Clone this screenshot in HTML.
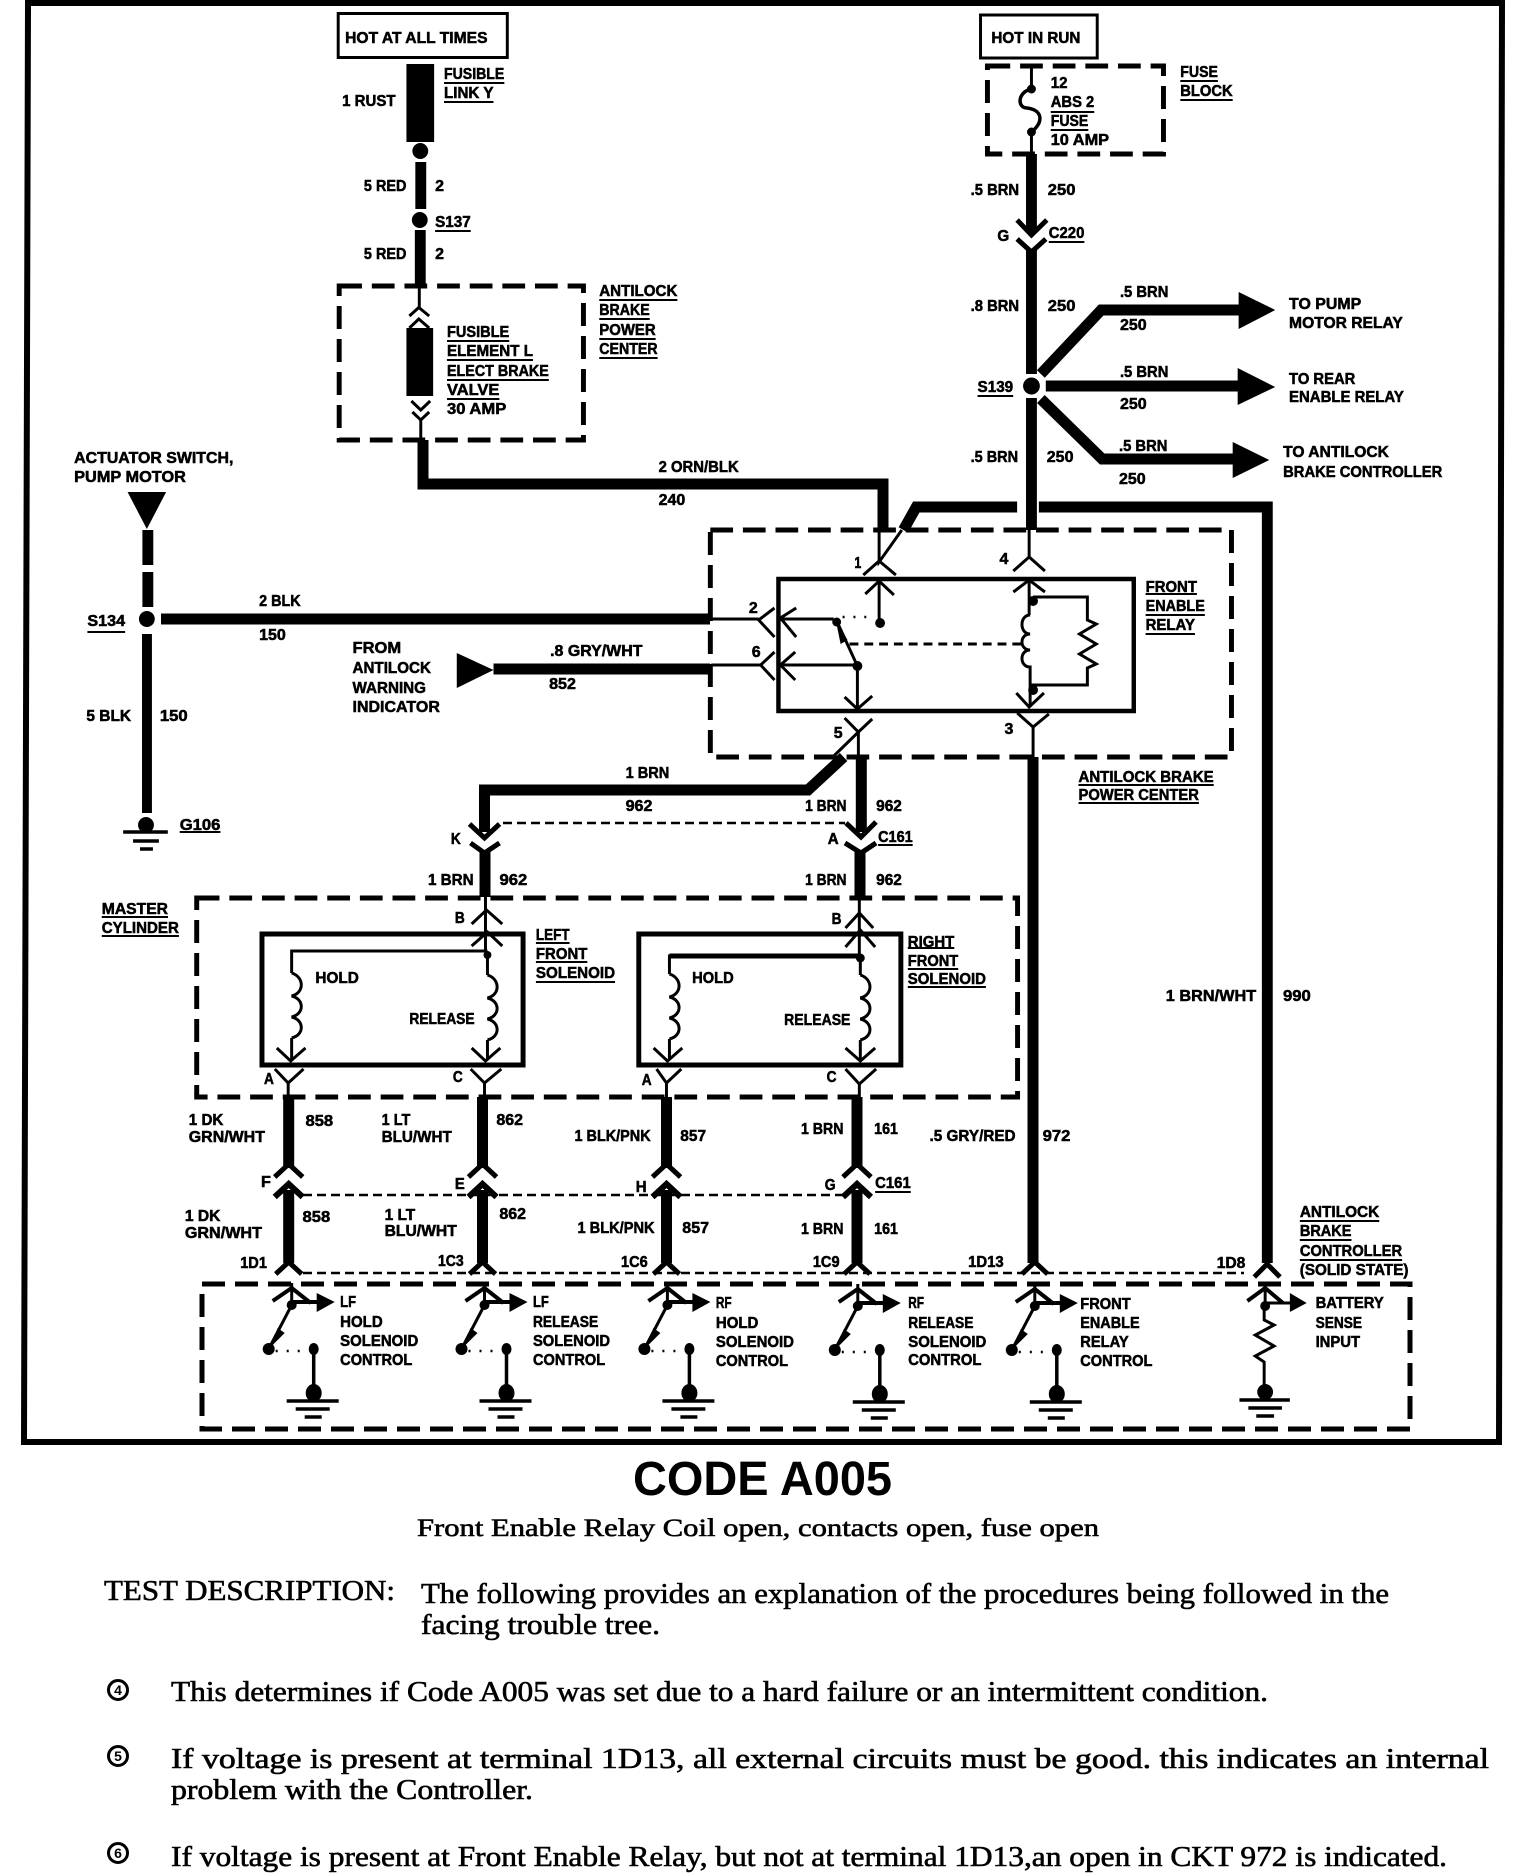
<!DOCTYPE html>
<html><head><meta charset="utf-8"><title>Code A005</title>
<style>
html,body{margin:0;padding:0;background:#fff}
svg{display:block;position:absolute;left:0;top:0}
.l text{font:bold 16px "Liberation Sans",sans-serif;fill:#000;stroke:#000;stroke-width:.55}
.s text{font:28px "Liberation Serif",serif;fill:#000;stroke:#000;stroke-width:.6}
.n{fill:none;stroke:#000;stroke-linejoin:miter;stroke-linecap:butt}
</style></head><body>
<svg width="1520" height="1874" viewBox="0 0 1520 1874" xmlns="http://www.w3.org/2000/svg">
<defs>
<g id="ctl">
<polyline class="n" stroke-width="4" points="-19,-4 0,-17 19,-2"/>
<path class="n" stroke-width="3" d="M0,-22V0"/>
<path class="n" stroke-width="4" d="M0,-3H26"/>
<polygon points="25,-12 25,7 43,-3"/>
<circle cx="0" cy="0" r="5"/>
<path class="n" stroke-width="3" d="M0,0L-23,44"/>
<polygon points="-14,23 -7,28 -21,42"/>
<circle cx="-23" cy="44" r="6"/>
<path class="n" stroke-width="2.5" stroke-dasharray="2 9" d="M-16,46H17"/>
<ellipse cx="22" cy="44" rx="5" ry="6"/>
<path class="n" stroke-width="3.5" d="M22,44V88"/>
<ellipse cx="22" cy="88" rx="8" ry="9"/>
<path class="n" stroke-width="3.5" d="M-5,96H47M4,104H38M13,112H30"/>
</g>
<g id="col">
<path class="n" stroke-width="11" d="M0,1097V1168M0,1190V1263"/>
<polyline class="n" stroke-width="5" points="-14,1177 0,1164 14,1177"/>
<polyline class="n" stroke-width="6" points="-14,1197 0,1184 14,1197"/>
<polyline class="n" stroke-width="5" points="-13,1274 0,1262 13,1274"/>
</g>
<g id="coil">
<path class="n" stroke-width="3" d="M0,0C13,4 13,20 0,23C13,26 13,41 0,44C13,47 13,62 0,65"/>
</g>
</defs>

<!-- frame -->
<path class="n" stroke-width="6" d="M24,1442L28,3H1502L1499,1442Z"/>

<!-- absolute wires -->
<path class="n" stroke-width="11" d="M423,440V484H883V530"/>
<path class="n" stroke-width="11" d="M161,619H710"/>
<path class="n" stroke-width="11" d="M843.600,757L808,790H484.500V832M861.300,757V832"/>
<path class="n" stroke-width="11" d="M860,852V897M485,852V897"/>
<path class="n" stroke-width="11" d="M1033,757V1263"/>
<polyline class="n" stroke-width="5" points="846,823 861,837 876,822"/>
<polyline class="n" stroke-width="5" points="845,843 861,853 876,843"/>
<polyline class="n" stroke-width="5" points="469.500,824 484.500,838 499.500,824"/>
<polyline class="n" stroke-width="5" points="470.500,843 484.500,853 499.500,843"/>
<g class="n" stroke-width="2.500" stroke-dasharray="9 5">
<path d="M503,823H845"/>
<path d="M303,1195H845"/>
<path d="M303,1273H1244"/>
</g>
<rect class="n" stroke-width="5" stroke-dasharray="23 10" x="202" y="1284" width="1208" height="145"/>
<use href="#col" x="288.700"/><use href="#col" x="482.500"/><use href="#col" x="666.500"/><use href="#col" x="857"/>
<use href="#ctl" x="291.700" y="1305"/><use href="#ctl" x="484.500" y="1305"/><use href="#ctl" x="667.400" y="1305"/><use href="#ctl" x="857.800" y="1306"/><use href="#ctl" x="1034.800" y="1306"/>

<!-- group A: left feed -->
<g transform="matrix(.9889 0 0 1 0 0)">
<rect class="n" stroke-width="3" x="342" y="13.500" width="171" height="44"/>
<rect class="n" stroke-width="5" stroke-dasharray="23 10" x="343" y="286" width="247" height="154"/>
<rect x="411" y="64" width="28" height="78"/>
<circle cx="425" cy="151" r="8"/>
<path class="n" stroke-width="11" d="M425.500,162V209M425,230V287"/>
<circle cx="424.500" cy="220" r="8"/>
<path class="n" stroke-width="3" d="M424,287V307M425.500,420V440"/>
<polyline class="n" stroke-width="3" points="414,316 423.500,307.500 434,316"/>
<polyline class="n" stroke-width="3" points="414,328 423.500,319 434,328"/>
<rect x="411" y="328" width="27" height="68"/>
<polyline class="n" stroke-width="3" points="416,401 425.500,410 435,401"/>
<polyline class="n" stroke-width="3" points="417,412 425.500,420 434,412"/>
<polygon points="129,492 168,492 148.500,529"/>
<path class="n" stroke-width="11" d="M149.500,530V565M149.500,572V607"/>
<circle cx="148.500" cy="619" r="8"/>
<path class="n" stroke-width="2" d="M449,83H510M449,102H499M440,231H476M452,341H515M452,360H539M452,380H555M452,399H505M606,300H685M606,319H657M606,339H663M606,358H665"/>
</g>
<g class="l" transform="matrix(.9889 0 0 1 0 -1)">
<text x="349" y="44" textLength="144" lengthAdjust="spacingAndGlyphs">HOT AT ALL TIMES</text>
<text x="346" y="107" textLength="54" lengthAdjust="spacingAndGlyphs">1 RUST</text>
<text x="449" y="80" textLength="61" lengthAdjust="spacingAndGlyphs">FUSIBLE</text>
<text x="449" y="99" textLength="50" lengthAdjust="spacingAndGlyphs">LINK Y</text>
<text x="368" y="192" textLength="43" lengthAdjust="spacingAndGlyphs">5 RED</text>
<text x="440" y="192" textLength="9" lengthAdjust="spacingAndGlyphs">2</text>
<text x="440" y="228" textLength="36" lengthAdjust="spacingAndGlyphs">S137</text>
<text x="368" y="260" textLength="43" lengthAdjust="spacingAndGlyphs">5 RED</text>
<text x="440" y="260" textLength="9" lengthAdjust="spacingAndGlyphs">2</text>
<text x="452" y="338" textLength="63" lengthAdjust="spacingAndGlyphs">FUSIBLE</text>
<text x="452" y="357" textLength="87" lengthAdjust="spacingAndGlyphs">ELEMENT L</text>
<text x="452" y="377" textLength="103" lengthAdjust="spacingAndGlyphs">ELECT BRAKE</text>
<text x="452" y="396" textLength="53" lengthAdjust="spacingAndGlyphs">VALVE</text>
<text x="452" y="415" textLength="60" lengthAdjust="spacingAndGlyphs">30 AMP</text>
<text x="606" y="297" textLength="79" lengthAdjust="spacingAndGlyphs">ANTILOCK</text>
<text x="606" y="316" textLength="51" lengthAdjust="spacingAndGlyphs">BRAKE</text>
<text x="606" y="336" textLength="57" lengthAdjust="spacingAndGlyphs">POWER</text>
<text x="606" y="355" textLength="59" lengthAdjust="spacingAndGlyphs">CENTER</text>
<text x="666" y="473" textLength="81" lengthAdjust="spacingAndGlyphs">2 ORN/BLK</text>
<text x="666" y="506" textLength="27" lengthAdjust="spacingAndGlyphs">240</text>
<text x="75" y="464" textLength="161" lengthAdjust="spacingAndGlyphs">ACTUATOR SWITCH,</text>
<text x="75" y="483" textLength="113" lengthAdjust="spacingAndGlyphs">PUMP MOTOR</text>
<text x="262" y="607" textLength="42" lengthAdjust="spacingAndGlyphs">2 BLK</text>
<text x="262" y="641" textLength="27" lengthAdjust="spacingAndGlyphs">150</text>
</g>

<!-- group G: display-derived -->
<g transform="matrix(.993 0 0 1 0 0)">
<path class="n" stroke-width="10" d="M148,634V813"/>
<circle cx="147" cy="825" r="8"/>
<path class="n" stroke-width="3.500" d="M124,832H169M134,841H160M141,849H154"/>
<polygon points="460,653 460,688 497,670"/>
<path class="n" stroke-width="11" d="M497,669H715"/>
<path class="n" stroke-width="2" d="M88,632H126M181,832H222M1309,1221H1389M1309,1240H1361M1309,1260H1412"/>
</g>
<g class="l" transform="matrix(.993 0 0 1 0 -1)">
<text x="88" y="627" textLength="38" lengthAdjust="spacingAndGlyphs">S134</text>
<text x="87" y="722" textLength="45" lengthAdjust="spacingAndGlyphs">5 BLK</text>
<text x="161" y="722" textLength="28" lengthAdjust="spacingAndGlyphs">150</text>
<text x="181" y="831" textLength="41" lengthAdjust="spacingAndGlyphs">G106</text>
<text x="355" y="654" textLength="49" lengthAdjust="spacingAndGlyphs">FROM</text>
<text x="355" y="674" textLength="79" lengthAdjust="spacingAndGlyphs">ANTILOCK</text>
<text x="355" y="694" textLength="74" lengthAdjust="spacingAndGlyphs">WARNING</text>
<text x="355" y="713" textLength="88" lengthAdjust="spacingAndGlyphs">INDICATOR</text>
<text x="554" y="657" textLength="93" lengthAdjust="spacingAndGlyphs">.8 GRY/WHT</text>
<text x="553" y="690" textLength="27" lengthAdjust="spacingAndGlyphs">852</text>
<text x="630" y="779" textLength="44" lengthAdjust="spacingAndGlyphs">1 BRN</text>
<text x="630" y="812" textLength="27" lengthAdjust="spacingAndGlyphs">962</text>
<text x="454" y="845" textLength="10" lengthAdjust="spacingAndGlyphs">K</text>
<text x="431" y="886" textLength="46" lengthAdjust="spacingAndGlyphs">1 BRN</text>
<text x="503" y="886" textLength="28" lengthAdjust="spacingAndGlyphs">962</text>
<text x="1050" y="1142" textLength="28" lengthAdjust="spacingAndGlyphs">972</text>
<text x="1174" y="1002" textLength="91" lengthAdjust="spacingAndGlyphs">1 BRN/WHT</text>
<text x="1292" y="1002" textLength="28" lengthAdjust="spacingAndGlyphs">990</text>
<text x="1309" y="1218" textLength="80" lengthAdjust="spacingAndGlyphs">ANTILOCK</text>
<text x="1309" y="1237" textLength="52" lengthAdjust="spacingAndGlyphs">BRAKE</text>
<text x="1309" y="1257" textLength="103" lengthAdjust="spacingAndGlyphs">CONTROLLER</text>
</g>

<!-- group B: right feed -->
<g transform="matrix(.9889 0 0 1 8.440 0)">
<rect class="n" stroke-width="3" x="983" y="15" width="118" height="43"/>
<rect class="n" stroke-width="5" stroke-dasharray="23 10" x="990" y="66" width="178" height="88"/>
<path class="n" stroke-width="3" d="M1034.500,66V89"/>
<path class="n" stroke-width="3.500" d="M1034.500,89C1020,92 1020,108 1030,108C1046,110 1047,122 1034.500,132"/>
<circle cx="1034.500" cy="89" r="4.500"/><circle cx="1034.500" cy="132" r="4.500"/>
<path class="n" stroke-width="3" d="M1034.500,132V154"/>
<path class="n" stroke-width="11" d="M1034.500,154V232"/>
<polyline class="n" stroke-width="5" points="1020,220 1034.500,235 1050,220"/>
<polyline class="n" stroke-width="5" points="1020,239 1034.500,252 1049,239"/>
<path class="n" stroke-width="11" d="M1034.500,250V374M1034.500,398V530"/>
<circle cx="1034.500" cy="386" r="8.500"/>
<path class="n" stroke-width="11" d="M1044,374L1105,310H1246M1049,386H1245M1044,399L1106,459H1240"/>
<polygon points="1244,292 1244,329 1281,310"/>
<polygon points="1243,368 1243,405 1281,387"/>
<polygon points="1238,442 1238,478 1275,460"/>
<path class="n" stroke-width="11" d="M1020,507H918L905,530M1042,507H1273V1263"/>
<path class="n" stroke-width="2" d="M1054,112H1098M1054,130H1092M1185,81H1223M1185,100H1238M1052,242H1088M980,396H1016"/>
</g>
<g class="l" transform="matrix(.9889 0 0 1 8.440 -1)">
<text x="994" y="44" textLength="90" lengthAdjust="spacingAndGlyphs">HOT IN RUN</text>
<text x="1054" y="89" textLength="17" lengthAdjust="spacingAndGlyphs">12</text>
<text x="1054" y="108" textLength="44" lengthAdjust="spacingAndGlyphs">ABS 2</text>
<text x="1054" y="127" textLength="38" lengthAdjust="spacingAndGlyphs">FUSE</text>
<text x="1054" y="146" textLength="59" lengthAdjust="spacingAndGlyphs">10 AMP</text>
<text x="1185" y="78" textLength="38" lengthAdjust="spacingAndGlyphs">FUSE</text>
<text x="1185" y="97" textLength="53" lengthAdjust="spacingAndGlyphs">BLOCK</text>
<text x="973" y="196" textLength="49" lengthAdjust="spacingAndGlyphs">.5 BRN</text>
<text x="1051" y="196" textLength="28" lengthAdjust="spacingAndGlyphs">250</text>
<text x="1000" y="242" textLength="12" lengthAdjust="spacingAndGlyphs">G</text>
<text x="1052" y="239" textLength="36" lengthAdjust="spacingAndGlyphs">C220</text>
<text x="973" y="312" textLength="49" lengthAdjust="spacingAndGlyphs">.8 BRN</text>
<text x="1051" y="312" textLength="28" lengthAdjust="spacingAndGlyphs">250</text>
<text x="1124" y="298" textLength="49" lengthAdjust="spacingAndGlyphs">.5 BRN</text>
<text x="1124" y="331" textLength="27" lengthAdjust="spacingAndGlyphs">250</text>
<text x="1295" y="310" textLength="73" lengthAdjust="spacingAndGlyphs">TO PUMP</text>
<text x="1295" y="329" textLength="115" lengthAdjust="spacingAndGlyphs">MOTOR RELAY</text>
<text x="980" y="393" textLength="36" lengthAdjust="spacingAndGlyphs">S139</text>
<text x="1124" y="378" textLength="49" lengthAdjust="spacingAndGlyphs">.5 BRN</text>
<text x="1124" y="410" textLength="27" lengthAdjust="spacingAndGlyphs">250</text>
<text x="1295" y="385" textLength="67" lengthAdjust="spacingAndGlyphs">TO REAR</text>
<text x="1295" y="403" textLength="116" lengthAdjust="spacingAndGlyphs">ENABLE RELAY</text>
<text x="973" y="463" textLength="48" lengthAdjust="spacingAndGlyphs">.5 BRN</text>
<text x="1050" y="463" textLength="27" lengthAdjust="spacingAndGlyphs">250</text>
<text x="1123" y="452" textLength="49" lengthAdjust="spacingAndGlyphs">.5 BRN</text>
<text x="1123" y="485" textLength="27" lengthAdjust="spacingAndGlyphs">250</text>
<text x="1289" y="458" textLength="107" lengthAdjust="spacingAndGlyphs">TO ANTILOCK</text>
<text x="1289" y="478" textLength="161" lengthAdjust="spacingAndGlyphs">BRAKE CONTROLLER</text>
</g>

<!-- group C: relay -->
<g transform="matrix(.987 0 0 1 8.580 0)">
<rect class="n" stroke-width="5" stroke-dasharray="23 10" x="711" y="530" width="528" height="227"/>
<rect class="n" stroke-width="4.500" x="780" y="579" width="360" height="132"/>
<g class="n" stroke-width="3">
<path d="M882,530V562L905,530M882,581V623"/>
<polyline points="866,575 882,561 899,575"/>
<polyline points="868,594 882,581 897,595"/>
<path d="M1034,530V557"/>
<polyline points="1018,571 1034,557 1050,571"/>
<polyline points="1018,592 1034,580 1050,592"/>
<path d="M1034,580V615"/>
<path d="M712,619H760"/>
<polyline points="776,608 760,620 776,637"/>
<polyline points="798,608 782,618 798,637"/>
<path d="M782,619H836"/>
<path d="M712,665H762"/>
<polyline points="776,652 762,665 776,680"/>
<polyline points="797,652 782,665 797,680"/>
<path d="M782,665H860V708"/>
<polyline points="847,697 860,709 875,696"/>
<path d="M860,666L840,623"/>
<path d="M1038,597H1093V620L1102,624L1085,634L1102,644L1085,654L1102,664L1093,668V685H1036"/>
<path d="M1035,615C1024,615 1024,634 1035,634C1024,634 1024,650 1035,650C1024,650 1024,667 1035,667V707"/>
<polyline points="1021,693 1034,707 1049,693"/>
<polyline points="1022,713 1038,727 1054,714"/>
<path d="M1038,727V757"/>
<polyline points="847,718 861,732 875,719"/>
<path d="M861,732V757M861,732L835,757"/>
</g>
<path class="n" stroke-width="3" stroke-dasharray="9 6" d="M852,644H1026"/>
<path class="n" stroke-width="2.500" stroke-dasharray="2 9" d="M845,617H876"/>
<polygon points="838,620 850,640 843,644"/>
<circle cx="883" cy="623" r="5"/><circle cx="839" cy="622" r="4.500"/>
<circle cx="860" cy="666" r="5"/><circle cx="1038" cy="601" r="5"/><circle cx="1038" cy="690" r="5"/>
<path class="n" stroke-width="2" d="M1152,594H1204M1152,615H1212M1152,634H1202M1084,785H1221M1084,803H1206M881,845H916"/>
</g>
<g class="l" transform="matrix(.987 0 0 1 8.580 -1)">
<text x="857" y="569" textLength="7" lengthAdjust="spacingAndGlyphs">1</text>
<text x="1004" y="565" textLength="9" lengthAdjust="spacingAndGlyphs">4</text>
<text x="750" y="614" textLength="9" lengthAdjust="spacingAndGlyphs">2</text>
<text x="753" y="658" textLength="9" lengthAdjust="spacingAndGlyphs">6</text>
<text x="836" y="739" textLength="9" lengthAdjust="spacingAndGlyphs">5</text>
<text x="1009" y="735" textLength="9" lengthAdjust="spacingAndGlyphs">3</text>
<text x="1152" y="593" textLength="52" lengthAdjust="spacingAndGlyphs">FRONT</text>
<text x="1152" y="612" textLength="60" lengthAdjust="spacingAndGlyphs">ENABLE</text>
<text x="1152" y="631" textLength="50" lengthAdjust="spacingAndGlyphs">RELAY</text>
<text x="1084" y="783" textLength="137" lengthAdjust="spacingAndGlyphs">ANTILOCK BRAKE</text>
<text x="1084" y="801" textLength="122" lengthAdjust="spacingAndGlyphs">POWER CENTER</text>
<text x="807" y="812" textLength="42" lengthAdjust="spacingAndGlyphs">1 BRN</text>
<text x="879" y="812" textLength="26" lengthAdjust="spacingAndGlyphs">962</text>
<text x="830" y="845" textLength="11" lengthAdjust="spacingAndGlyphs">A</text>
<text x="881" y="843" textLength="35" lengthAdjust="spacingAndGlyphs">C161</text>
<text x="807" y="886" textLength="42" lengthAdjust="spacingAndGlyphs">1 BRN</text>
<text x="879" y="886" textLength="26" lengthAdjust="spacingAndGlyphs">962</text>
</g>

<!-- group D: master cylinder -->
<g transform="matrix(.989 0 0 1 .880 0)">
<rect class="n" stroke-width="5" stroke-dasharray="23 10" x="198" y="898" width="830" height="199"/>
<rect class="n" stroke-width="5" x="264" y="934" width="264" height="131"/>
<rect class="n" stroke-width="5" x="645" y="934" width="265" height="131"/>
<g class="n" stroke-width="3">
<path d="M490,897V950"/>
<polyline points="476,924 491,910 507,924"/>
<polyline points="476,946 492,932 507,946"/>
<path d="M492,951H294V973M492,955V975M294,1038V1060M492,1040V1060"/>
<polyline points="279,1048 293,1061 308,1048"/>
<polyline points="476,1048 490,1061 505,1048"/>
<path d="M868,897V956"/>
<polyline points="854,928 868,913 882,928"/>
<polyline points="854,947 869,930 884,947"/>
<path d="M869,956H676V974M869,958V975M676,1039V1060M869,1040V1060"/>
<polyline points="660,1048 674,1061 689,1048"/>
<polyline points="854,1048 869,1061 884,1048"/>
<polyline points="277,1069 290.500,1083 306,1069"/>
<polyline points="475,1069 489,1083 506,1069"/>
<polyline points="663,1069 673,1083 688,1069"/>
<polyline points="854,1069 868,1084 885,1069"/>
<path d="M290.500,1083V1097M489,1083V1097M673,1083V1097M868,1084V1097"/>
</g>
<use href="#coil" x="294" y="973"/><use href="#coil" x="492" y="975"/>
<use href="#coil" x="676" y="974"/><use href="#coil" x="869" y="975"/>
<circle cx="492" cy="955" r="4"/><circle cx="869" cy="958" r="4.500"/>
<path class="n" stroke-width="5" d="M676,956H869"/>
<path class="n" stroke-width="2" d="M102,917H169M102,936H180M541,943H575M541,962H593M541,982H621M917,948H964M917,969H968M917,987H996M884,1192H920"/>
</g>
<g class="l" transform="matrix(.989 0 0 1 .880 -1)">
<text x="102" y="915" textLength="67" lengthAdjust="spacingAndGlyphs">MASTER</text>
<text x="102" y="934" textLength="78" lengthAdjust="spacingAndGlyphs">CYLINDER</text>
<text x="459" y="924" textLength="10" lengthAdjust="spacingAndGlyphs">B</text>
<text x="840" y="925" textLength="10" lengthAdjust="spacingAndGlyphs">B</text>
<text x="318" y="984" textLength="44" lengthAdjust="spacingAndGlyphs">HOLD</text>
<text x="413" y="1025" textLength="66" lengthAdjust="spacingAndGlyphs">RELEASE</text>
<text x="541" y="941" textLength="34" lengthAdjust="spacingAndGlyphs">LEFT</text>
<text x="541" y="960" textLength="52" lengthAdjust="spacingAndGlyphs">FRONT</text>
<text x="541" y="979" textLength="80" lengthAdjust="spacingAndGlyphs">SOLENOID</text>
<text x="699" y="984" textLength="42" lengthAdjust="spacingAndGlyphs">HOLD</text>
<text x="792" y="1026" textLength="67" lengthAdjust="spacingAndGlyphs">RELEASE</text>
<text x="917" y="948" textLength="47" lengthAdjust="spacingAndGlyphs">RIGHT</text>
<text x="917" y="967" textLength="51" lengthAdjust="spacingAndGlyphs">FRONT</text>
<text x="917" y="985" textLength="79" lengthAdjust="spacingAndGlyphs">SOLENOID</text>
<text x="266" y="1085" textLength="10" lengthAdjust="spacingAndGlyphs">A</text>
<text x="457" y="1083" textLength="10" lengthAdjust="spacingAndGlyphs">C</text>
<text x="648" y="1086" textLength="10" lengthAdjust="spacingAndGlyphs">A</text>
<text x="835" y="1083" textLength="10" lengthAdjust="spacingAndGlyphs">C</text>
<text x="190" y="1126" textLength="35" lengthAdjust="spacingAndGlyphs">1 DK</text>
<text x="190" y="1143" textLength="77" lengthAdjust="spacingAndGlyphs">GRN/WHT</text>
<text x="308" y="1127" textLength="28" lengthAdjust="spacingAndGlyphs">858</text>
<text x="385" y="1126" textLength="29" lengthAdjust="spacingAndGlyphs">1 LT</text>
<text x="385" y="1143" textLength="71" lengthAdjust="spacingAndGlyphs">BLU/WHT</text>
<text x="501" y="1126" textLength="27" lengthAdjust="spacingAndGlyphs">862</text>
<text x="580" y="1142" textLength="77" lengthAdjust="spacingAndGlyphs">1 BLK/PNK</text>
<text x="687" y="1142" textLength="26" lengthAdjust="spacingAndGlyphs">857</text>
<text x="809" y="1135" textLength="43" lengthAdjust="spacingAndGlyphs">1 BRN</text>
<text x="883" y="1135" textLength="24" lengthAdjust="spacingAndGlyphs">161</text>
<text x="939" y="1142" textLength="87" lengthAdjust="spacingAndGlyphs">.5 GRY/RED</text>
<text x="263" y="1188" textLength="10" lengthAdjust="spacingAndGlyphs">F</text>
<text x="459" y="1190" textLength="10" lengthAdjust="spacingAndGlyphs">E</text>
<text x="642" y="1193" textLength="11" lengthAdjust="spacingAndGlyphs">H</text>
<text x="833" y="1191" textLength="11" lengthAdjust="spacingAndGlyphs">G</text>
<text x="884" y="1189" textLength="36" lengthAdjust="spacingAndGlyphs">C161</text>
<text x="186" y="1222" textLength="36" lengthAdjust="spacingAndGlyphs">1 DK</text>
<text x="186" y="1239" textLength="78" lengthAdjust="spacingAndGlyphs">GRN/WHT</text>
<text x="305" y="1223" textLength="28" lengthAdjust="spacingAndGlyphs">858</text>
<text x="388" y="1221" textLength="31" lengthAdjust="spacingAndGlyphs">1 LT</text>
<text x="388" y="1237" textLength="73" lengthAdjust="spacingAndGlyphs">BLU/WHT</text>
<text x="504" y="1220" textLength="27" lengthAdjust="spacingAndGlyphs">862</text>
<text x="583" y="1234" textLength="78" lengthAdjust="spacingAndGlyphs">1 BLK/PNK</text>
<text x="689" y="1234" textLength="27" lengthAdjust="spacingAndGlyphs">857</text>
<text x="809" y="1235" textLength="43" lengthAdjust="spacingAndGlyphs">1 BRN</text>
<text x="883" y="1235" textLength="24" lengthAdjust="spacingAndGlyphs">161</text>
<text x="242" y="1269" textLength="27" lengthAdjust="spacingAndGlyphs">1D1</text>
<text x="442" y="1267" textLength="26" lengthAdjust="spacingAndGlyphs">1C3</text>
<text x="627" y="1268" textLength="27" lengthAdjust="spacingAndGlyphs">1C6</text>
<text x="821" y="1268" textLength="27" lengthAdjust="spacingAndGlyphs">1C9</text>
<text x="978" y="1268" textLength="36" lengthAdjust="spacingAndGlyphs">1D13</text>
</g>

<!-- group E: controller labels left -->
<g class="l" transform="matrix(.9887 0 0 1 2.030 -1)">
<text x="342" y="1308" textLength="16" lengthAdjust="spacingAndGlyphs">LF</text>
<text x="342" y="1328" textLength="43" lengthAdjust="spacingAndGlyphs">HOLD</text>
<text x="342" y="1347" textLength="79" lengthAdjust="spacingAndGlyphs">SOLENOID</text>
<text x="342" y="1366" textLength="73" lengthAdjust="spacingAndGlyphs">CONTROL</text>
<text x="537" y="1308" textLength="16" lengthAdjust="spacingAndGlyphs">LF</text>
<text x="537" y="1328" textLength="66" lengthAdjust="spacingAndGlyphs">RELEASE</text>
<text x="537" y="1347" textLength="78" lengthAdjust="spacingAndGlyphs">SOLENOID</text>
<text x="537" y="1366" textLength="73" lengthAdjust="spacingAndGlyphs">CONTROL</text>
<text x="722" y="1309" textLength="16" lengthAdjust="spacingAndGlyphs">RF</text>
<text x="722" y="1329" textLength="43" lengthAdjust="spacingAndGlyphs">HOLD</text>
<text x="722" y="1348" textLength="79" lengthAdjust="spacingAndGlyphs">SOLENOID</text>
<text x="722" y="1367" textLength="73" lengthAdjust="spacingAndGlyphs">CONTROL</text>
</g>

<!-- group F: controller right -->
<g transform="matrix(.9887 0 0 1 9.500 0)">
<polyline class="n" stroke-width="5" points="1024,1274 1037,1262 1050,1274"/>
<polyline class="n" stroke-width="5" points="1259,1277 1272,1264 1285,1277"/>
<polyline class="n" stroke-width="4" points="1252,1301 1270,1288 1288,1303"/>
<path class="n" stroke-width="3" d="M1270,1283V1306M1270,1303H1296"/>
<polygon points="1295,1293 1295,1312 1312,1303"/>
<circle cx="1270" cy="1306" r="5"/>
<path class="n" stroke-width="3" d="M1269,1306V1320L1279,1325L1260,1335L1279,1346L1260,1356L1269,1362V1390"/>
<circle cx="1270" cy="1392" r="8"/>
<path class="n" stroke-width="3.500" d="M1244,1400H1295M1253,1408H1287M1261,1416H1279"/>
</g>
<g class="l" transform="matrix(.9887 0 0 1 9.500 -1)">
<text x="1221" y="1269" textLength="29" lengthAdjust="spacingAndGlyphs">1D8</text>
<text x="1305" y="1276" textLength="110" lengthAdjust="spacingAndGlyphs">(SOLID STATE)</text>
<text x="909" y="1309" textLength="16" lengthAdjust="spacingAndGlyphs">RF</text>
<text x="909" y="1329" textLength="66" lengthAdjust="spacingAndGlyphs">RELEASE</text>
<text x="909" y="1348" textLength="79" lengthAdjust="spacingAndGlyphs">SOLENOID</text>
<text x="909" y="1366" textLength="74" lengthAdjust="spacingAndGlyphs">CONTROL</text>
<text x="1083" y="1310" textLength="51" lengthAdjust="spacingAndGlyphs">FRONT</text>
<text x="1083" y="1329" textLength="60" lengthAdjust="spacingAndGlyphs">ENABLE</text>
<text x="1083" y="1348" textLength="49" lengthAdjust="spacingAndGlyphs">RELAY</text>
<text x="1083" y="1367" textLength="73" lengthAdjust="spacingAndGlyphs">CONTROL</text>
<text x="1321" y="1309" textLength="69" lengthAdjust="spacingAndGlyphs">BATTERY</text>
<text x="1321" y="1329" textLength="47" lengthAdjust="spacingAndGlyphs">SENSE</text>
<text x="1321" y="1348" textLength="45" lengthAdjust="spacingAndGlyphs">INPUT</text>
</g>

<text x="633" y="1495" textLength="259" lengthAdjust="spacingAndGlyphs" style="font:bold 48px 'Liberation Sans',sans-serif">CODE A005</text>
<g class="s">
<text x="417" y="1536" textLength="682" lengthAdjust="spacingAndGlyphs" style="font-size:25px">Front Enable Relay Coil open, contacts open, fuse open</text>
<text x="104" y="1600" textLength="291" lengthAdjust="spacingAndGlyphs">TEST DESCRIPTION:</text>
<text x="421" y="1603" textLength="968" lengthAdjust="spacingAndGlyphs">The following provides an explanation of the procedures being followed in the</text>
<text x="421" y="1634" textLength="239" lengthAdjust="spacingAndGlyphs">facing trouble tree.</text>
<text x="171" y="1701" textLength="1097" lengthAdjust="spacingAndGlyphs">This determines if Code A005 was set due to a hard failure or an intermittent condition.</text>
<text x="171" y="1768" textLength="1318" lengthAdjust="spacingAndGlyphs">If voltage is present at terminal 1D13, all external circuits must be good. this indicates an internal</text>
<text x="171" y="1799" textLength="362" lengthAdjust="spacingAndGlyphs">problem with the Controller.</text>
<text x="171" y="1866" textLength="1276" lengthAdjust="spacingAndGlyphs">If voltage is present at Front Enable Relay, but not at terminal 1D13,an open in CKT 972 is indicated.</text>
</g>
<g class="n" stroke-width="3"><circle cx="118" cy="1690" r="9.500"/><circle cx="118" cy="1756" r="9.500"/><circle cx="118" cy="1853" r="9.500"/></g>
<g style="font:bold 14px 'Liberation Sans',sans-serif" text-anchor="middle"><text x="118" y="1695">4</text><text x="118" y="1761">5</text><text x="118" y="1858">6</text></g>
</svg>
</body></html>
